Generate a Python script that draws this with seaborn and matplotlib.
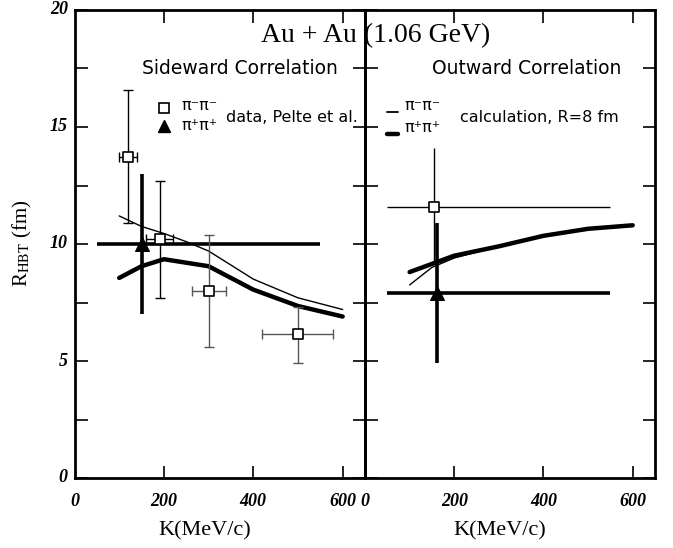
import numpy as np
import pandas as pd
import matplotlib
matplotlib.use("Agg")
import matplotlib.pyplot as plt
import seaborn as sns

# ---------------- data ----------------
# Sideward (left panel)
side_mm_K = [120, 191, 301, 499]
side_mm_R = [13.7, 10.2, 8.0, 6.15]
side_mm_Rlo = [10.9, 7.7, 5.6, 4.9]
side_mm_Rhi = [16.6, 12.7, 10.4, 7.3]
side_mm_Kerr = [20, 30, 38, 80]

side_pp_K = [151]
side_pp_R = [10.0]
side_pp_Rlo = [7.0]
side_pp_Rhi = [13.0]
side_pp_Klo = [50]
side_pp_Khi = [550]

side_calc_K = [100, 150, 200, 250, 300, 400, 500, 600]
side_calc_mm = [11.2, 10.75, 10.45, 10.1, 9.7, 8.5, 7.7, 7.2]
side_calc_pp = [8.55, 9.05, 9.35, 9.2, 9.05, 8.05, 7.35, 6.9]

# Outward (right panel)
out_mm_K = [155]
out_mm_R = [11.6]
out_mm_Rlo = [9.2]
out_mm_Rhi = [14.1]
out_mm_Klo = [50]
out_mm_Khi = [550]

out_pp_K = [161]
out_pp_R = [7.9]
out_pp_Rlo = [4.9]
out_pp_Rhi = [10.9]
out_pp_Klo = [50]
out_pp_Khi = [550]

out_calc_K = [100, 150, 200, 250, 300, 400, 500, 600]
out_calc_mm = [8.25, 9.0, 9.4, 9.65, 9.9, 10.35, 10.65, 10.8]
out_calc_pp = [8.8, 9.15, 9.5, 9.7, 9.9, 10.35, 10.65, 10.8]

x_ticks = [0, 200, 400, 600]
y_ticks = [0, 5, 10, 15, 20]

# ---------------- style ----------------
sns.set_style("ticks")
plt.rcParams['font.family'] = ['DejaVu Sans']
plt.rcParams['mathtext.fontset'] = 'stix'
plt.rcParams['text.color'] = 'black'

W, H = 673, 548
fig = plt.figure(figsize=(W / 100, H / 100), dpi=100)

def fx(px):
    return px / W

def fy(py):
    return 1 - py / H

axL = fig.add_axes([fx(74.5), fy(478), (365 - 74.5) / W, 468 / H])
axR = fig.add_axes([fx(365), fy(478), 290 / W, 468 / H])

serif_bi = dict(family='Liberation Serif', weight='bold', style='italic', size=13, color='black')

for ax in (axL, axR):
    ax.set_xlim(0, 650)
    ax.set_ylim(0, 20)
    ax.set_xticks(x_ticks[1:])
    ax.set_yticks(np.arange(0, 20.1, 2.5))
    ax.tick_params(direction='in', length=9, width=1.2, top=True, right=True,
                   labelleft=False, labelbottom=False, colors='black')
    for s in ax.spines.values():
        s.set_linewidth(2)
        s.set_color('black')
    ax.set_facecolor('none')
    ax.grid(False)

# tick labels
for ax in (axL, axR):
    for xv in x_ticks:
        ax.text(xv, -1.0, str(xv), ha='center', va='center',
                transform=ax.transData, clip_on=False, **serif_bi)
for yv in y_ticks:
    axL.text(-15, yv, str(yv), ha='right', va='center',
             transform=axL.transData, clip_on=False, **serif_bi)

# ---------------- left panel ----------------
df_side = pd.DataFrame({'K': side_calc_K, 'mm': side_calc_mm, 'pp': side_calc_pp})
sns.lineplot(data=df_side, x='K', y='mm', ax=axL, color='black', lw=1.0)
sns.lineplot(data=df_side, x='K', y='pp', ax=axL, color='black', lw=3.2)

axL.errorbar(side_pp_K, side_pp_R,
             yerr=[np.subtract(side_pp_R, side_pp_Rlo), np.subtract(side_pp_Rhi, side_pp_R)],
             xerr=[np.subtract(side_pp_K, side_pp_Klo), np.subtract(side_pp_Khi, side_pp_K)],
             fmt='none', ecolor='black', elinewidth=2.6, capsize=0, zorder=3)
sns.scatterplot(x=side_pp_K, y=side_pp_R, ax=axL, marker='^', s=100,
                color='black', edgecolor='black', zorder=4)

mm_err_col = ['black', 'black', '#555555', '#555555']
for k, r, lo, hi, ke, c in zip(side_mm_K, side_mm_R, side_mm_Rlo, side_mm_Rhi, side_mm_Kerr, mm_err_col):
    axL.errorbar([k], [r], yerr=[[r - lo], [hi - r]], xerr=[[ke], [ke]],
                 fmt='none', ecolor=c, elinewidth=1.0, capsize=3.5, capthick=1.0, zorder=3)
sns.scatterplot(x=side_mm_K, y=side_mm_R, ax=axL, marker='s', s=55,
                facecolor='white', edgecolor='black', linewidth=1.2, zorder=5)
axL.set_xlabel('')
axL.set_ylabel('')

# ---------------- right panel ----------------
df_out = pd.DataFrame({'K': out_calc_K, 'mm': out_calc_mm, 'pp': out_calc_pp})
sns.lineplot(data=df_out, x='K', y='pp', ax=axR, color='black', lw=3.2)
sns.lineplot(data=df_out, x='K', y='mm', ax=axR, color='black', lw=1.0)

axR.errorbar(out_mm_K, out_mm_R,
             yerr=[np.subtract(out_mm_R, out_mm_Rlo), np.subtract(out_mm_Rhi, out_mm_R)],
             xerr=[np.subtract(out_mm_K, out_mm_Klo), np.subtract(out_mm_Khi, out_mm_K)],
             fmt='none', ecolor='black', elinewidth=1.0, capsize=0, zorder=3)
sns.scatterplot(x=out_mm_K, y=out_mm_R, ax=axR, marker='s', s=55,
                facecolor='white', edgecolor='black', linewidth=1.2, zorder=5)

axR.errorbar(out_pp_K, out_pp_R,
             yerr=[np.subtract(out_pp_R, out_pp_Rlo), np.subtract(out_pp_Rhi, out_pp_R)],
             xerr=[np.subtract(out_pp_K, out_pp_Klo), np.subtract(out_pp_Khi, out_pp_K)],
             fmt='none', ecolor='black', elinewidth=2.6, capsize=0, zorder=3)
sns.scatterplot(x=out_pp_K, y=out_pp_R, ax=axR, marker='^', s=100,
                color='black', edgecolor='black', zorder=4)
axR.set_xlabel('')
axR.set_ylabel('')

# ---------------- texts ----------------
fig.text(fx(376), fy(36), 'Au + Au (1.06 GeV)', ha='center', va='center',
         family='Liberation Serif', size=20)
fig.text(fx(240), fy(68), 'Sideward Correlation', ha='center', va='center', size=13.5)
fig.text(fx(527), fy(68), 'Outward Correlation', ha='center', va='center', size=13.5)

fig.text(fx(205), fy(531), 'K(MeV/c)', ha='center', va='center',
         family='Liberation Serif', size=16)
fig.text(fx(500), fy(531), 'K(MeV/c)', ha='center', va='center',
         family='Liberation Serif', size=16)
fig.text(fx(22), fy(243), r'R$_{\mathrm{HBT}}$ (fm)', ha='center', va='center',
         rotation=90, family='Liberation Serif', size=15)

def axfL(px, py):
    return ((px - 74.5) / 290.5, (478 - py) / 468)

def axfR(px, py):
    return ((px - 365) / 290, (478 - py) / 468)

# left legend
axL.plot(*axfL(164, 108), marker='s', ms=7.5, mfc='white', mec='black', mew=1.2,
         transform=axL.transAxes, clip_on=False)
axL.plot(*axfL(164, 126), marker='^', ms=9, mfc='black', mec='black',
         transform=axL.transAxes, clip_on=False)
axL.text(*axfL(181, 106), 'π⁻π⁻', transform=axL.transAxes, ha='left', va='center', size=11.5)
axL.text(*axfL(181, 125), 'π⁺π⁺', transform=axL.transAxes, ha='left', va='center', size=11.5)
axL.text(*axfL(226, 117), 'data, Pelte et al.', transform=axL.transAxes,
         ha='left', va='center', size=11.5)

# right legend
xa, ya = axfR(387, 112)
xb, _ = axfR(398, 112)
axR.plot([xa, xb], [ya, ya], color='black', lw=1.3, transform=axR.transAxes, clip_on=False)
xa, ya = axfR(387, 134)
axR.plot([xa, xb], [ya, ya], color='black', lw=3.2, transform=axR.transAxes, clip_on=False)
axR.text(*axfR(404, 105), 'π⁻π⁻', transform=axR.transAxes, ha='left', va='center', size=11.5)
axR.text(*axfR(404, 127), 'π⁺π⁺', transform=axR.transAxes, ha='left', va='center', size=11.5)
axR.text(*axfR(460, 118), 'calculation, R=8 fm', transform=axR.transAxes,
         ha='left', va='center', size=11.5)

fig.savefig('out.png', dpi=100, facecolor='white')
